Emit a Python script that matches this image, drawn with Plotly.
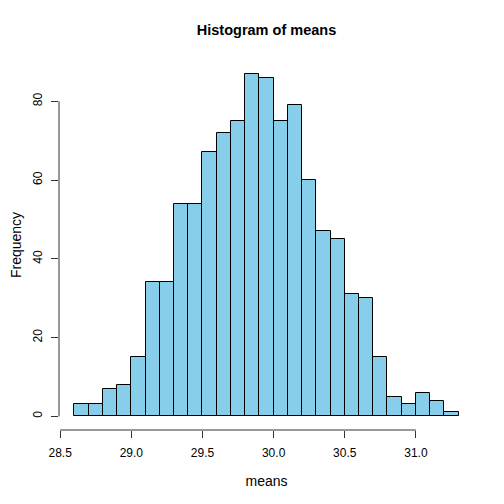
import plotly.graph_objects as go

# histogram of means, breaks every 0.1 from 28.6 to 31.3
bin_left = [28.6, 28.7, 28.8, 28.9, 29.0, 29.1, 29.2, 29.3, 29.4, 29.5, 29.6, 29.7, 29.8, 29.9,
            30.0, 30.1, 30.2, 30.3, 30.4, 30.5, 30.6, 30.7, 30.8, 30.9, 31.0, 31.1, 31.2]
counts = [3, 3, 7, 8, 15, 34, 34, 54, 54, 67, 72, 75, 87, 86,
          75, 79, 60, 47, 45, 31, 30, 15, 5, 3, 6, 4, 1]
bin_width = 0.1
x_ticks = [28.5, 29.0, 29.5, 30.0, 30.5, 31.0]
y_ticks = [0, 20, 40, 60, 80]

centers = [b + bin_width / 2 for b in bin_left]

# R style 4% padding around the data
lo, hi = bin_left[0], bin_left[-1] + bin_width
xpad = (hi - lo) * 0.04
ypad = max(counts) * 0.04

fig = go.Figure()
fig.add_trace(go.Bar(x=centers, y=counts, width=bin_width,
                     marker=dict(color='#87CEEB', line=dict(color='black', width=1)),
                     showlegend=False))

axis_font = dict(family='Liberation Sans, Arial, sans-serif', size=12, color='black')

# page body has an 8px margin, so pull the plot area back by 8px
fig.update_layout(
    width=504, height=504,
    margin=dict(l=51, r=38, t=52, b=82, autoexpand=False),
    plot_bgcolor='white', paper_bgcolor='white',
    font=axis_font,
    title=dict(text='<b>Histogram of means</b>', x=(51 + 466) / 2 / 504, xanchor='center',
               y=1 - 22 / 504, yanchor='middle',
               font=dict(family='Liberation Sans, Arial, sans-serif', size=14.5, color='black')),
    xaxis=dict(range=[lo - xpad, hi + xpad], tickvals=x_ticks,
               ticktext=['%.1f' % v for v in x_ticks],
               ticks='outside', ticklen=7, tickcolor='#333', tickwidth=1,
               ticklabelstandoff=5, automargin=False,
               showgrid=False, zeroline=False, showline=False,
               title=dict(text='means', standoff=16)),
    yaxis=dict(range=[-ypad, max(counts) + ypad], tickvals=y_ticks,
               ticks='outside', ticklen=7, tickcolor='#333', tickwidth=1,
               tickangle=-90, ticklabelstandoff=4, automargin=False,
               showgrid=False, zeroline=False, showline=False,
               title=dict(text='Frequency', standoff=6)),
    bargap=0,
)

# axis lines only span the tick range, like base R
fig.add_shape(type='line', xref='x', yref='paper', x0=x_ticks[0], x1=x_ticks[-1], y0=0, y1=0,
              line=dict(color='#333', width=1))
fig.add_shape(type='line', xref='paper', yref='y', x0=0, x1=0, y0=y_ticks[0], y1=y_ticks[-1],
              line=dict(color='#333', width=1))

fig.write_html("out.html")
